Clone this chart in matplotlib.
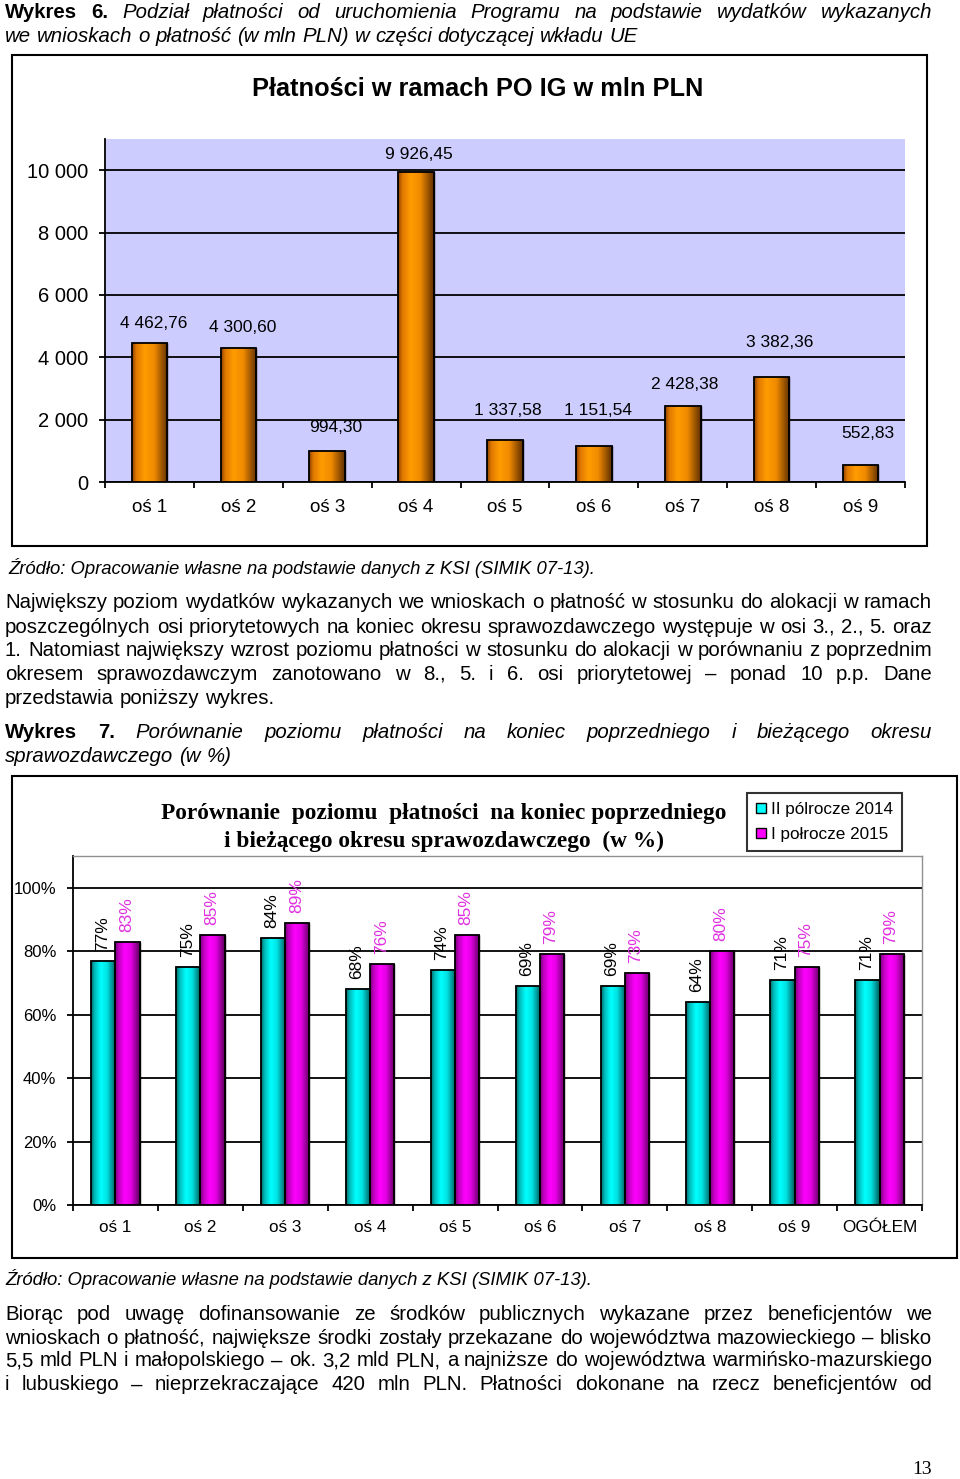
import numpy as np
import matplotlib
matplotlib.use('Agg')
import matplotlib.pyplot as plt
from matplotlib.colors import LinearSegmentedColormap
from matplotlib.patches import Rectangle, Patch

# ---------------- data ----------------
axes1_labels = ['oś 1', 'oś 2', 'oś 3', 'oś 4', 'oś 5', 'oś 6', 'oś 7', 'oś 8', 'oś 9']
payments = [4462.76, 4300.60, 994.30, 9926.45, 1337.58, 1151.54, 2428.38, 3382.36, 552.83]
y1_ticks = [0, 2000, 4000, 6000, 8000, 10000]

axes2_labels = ['oś 1', 'oś 2', 'oś 3', 'oś 4', 'oś 5', 'oś 6', 'oś 7', 'oś 8', 'oś 9', 'OGÓŁEM']
h2_2014 = [77, 75, 84, 68, 74, 69, 69, 64, 71, 71]
h1_2015 = [83, 85, 89, 76, 85, 79, 73, 80, 75, 79]
series_names = ['II pólrocze 2014', 'I połrocze 2015']
y2_ticks = [0, 20, 40, 60, 80, 100]

# label offsets (pixels) for chart 1 value labels, as placed in the original
lab1_dx = [4, 4, 8, 3, 3, 4, 2, 8, 7]
lab1_dy = [19, 20, 23, 18, 30, 36, 22, 34, 31]

W, H = 960, 1479
fig = plt.figure(figsize=(W / 100, H / 100), dpi=100)
fig.patch.set_facecolor('white')


def fx(x):
    return x / W


def fy(y):
    return 1 - y / H


SANS = 'Liberation Sans'
SERIF = 'Liberation Serif'
BODY = 14.7
renderer = fig.canvas.get_renderer()
IT = {'fontstyle': 'italic'}
BD = {'fontweight': 'bold'}
RG = {}


def text_line(y, segments, x0=5, x1=932, justify=True, size=BODY):
    words = []
    for txt, style in segments:
        for w in txt.split(' '):
            if w:
                words.append((w, style))
    objs = []
    for w, style in words:
        t = fig.text(0, fy(y + 1), w, fontsize=size, family=SANS, va='center', ha='left', **style)
        objs.append(t)
    widths = [t.get_window_extent(renderer).width for t in objs]
    n = len(objs)
    if justify and n > 1:
        gap = (x1 - x0 - sum(widths)) / (n - 1)
    else:
        gap = 0.278 * size * 100 / 72
    x = x0
    for t, w in zip(objs, widths):
        t.set_x(fx(x))
        x += w + gap


def gradient_bars(ax, bars, cmap, lw=1.3):
    grad = np.linspace(0, 1, 256).reshape(1, -1)
    for b in bars:
        x0, y0 = b.get_x(), b.get_y()
        w, h = b.get_width(), b.get_height()
        im = ax.imshow(grad, cmap=cmap, extent=[x0, x0 + w, y0, y0 + h], aspect='auto',
                       zorder=b.get_zorder() + 0.1, interpolation='bicubic')
        im.set_clip_path(b)
        ax.add_patch(Rectangle((x0, y0), w, h, fill=False, ec='black', lw=lw,
                               zorder=b.get_zorder() + 0.2))


orange_cmap = LinearSegmentedColormap.from_list(
    'or', [(0, '#8A4200'), (0.12, '#E07800'), (0.35, '#FF9C00'), (0.62, '#F08A00'), (1, '#5E2E00')])
cyan_cmap = LinearSegmentedColormap.from_list(
    'cy', [(0, '#006A6A'), (0.15, '#00BCBC'), (0.4, '#00FFFF'), (0.65, '#00E2E2'), (1, '#005858')])
mag_cmap = LinearSegmentedColormap.from_list(
    'mg', [(0, '#760076'), (0.15, '#C000C0'), (0.4, '#FF00FF'), (0.65, '#E200E2'), (1, '#5A005A')])

# ---------------- header text ----------------
text_line(11, [('Wykres 6.', BD), ('Podział płatności od uruchomienia Programu na podstawie wydatków wykazanych', IT)])
text_line(35, [('we wnioskach o płatność (w mln PLN) w części dotyczącej wkładu UE', IT)], justify=False)

# ---------------- chart 1 ----------------
fig.add_artist(Rectangle((fx(12), fy(546)), fx(927) - fx(12), fy(55) - fy(546),
                         transform=fig.transFigure, fill=False, ec='black', lw=1.5))
fig.text(fx(478), fy(89), 'Płatności w ramach PO IG w mln PLN', ha='center', va='center',
         fontsize=18.3, fontweight='bold', family=SANS)

ax1 = fig.add_axes([fx(105), fy(482), fx(905) - fx(105), fy(139) - fy(482)])
ax1.set_facecolor('#CCCCFF')
x1 = np.arange(len(payments))
bars1 = ax1.bar(x1, payments, width=0.4, color='#FF9900', edgecolor='black', zorder=3)
gradient_bars(ax1, bars1, orange_cmap)
for i, v in enumerate(payments):
    lab = f"{v:,.2f}".replace(',', ' ').replace('.', ',')
    ax1.annotate(lab, (x1[i], v), xytext=(lab1_dx[i], lab1_dy[i]), textcoords='offset pixels',
                 ha='center', va='center', fontsize=12.5, family=SANS, zorder=6)
ax1.set_xlim(-0.5, len(payments) - 0.5)
ax1.set_ylim(0, 11000)
ax1.set_yticks(y1_ticks)
ax1.set_yticklabels([f"{v:,}".replace(',', ' ') for v in y1_ticks], family=SANS, fontsize=14.5)
ax1.yaxis.grid(True, color='black', lw=1.3)
ax1.set_axisbelow(True)
for s in ['top', 'right']:
    ax1.spines[s].set_visible(False)
for s in ['left', 'bottom']:
    ax1.spines[s].set_color('black')
    ax1.spines[s].set_linewidth(1.3)
ax1.set_xticks(x1)
ax1.set_xticklabels(axes1_labels, family=SANS, fontsize=13.5)
ax1.set_xticks(np.arange(-0.5, len(payments), 1), minor=True)
ax1.tick_params(axis='x', which='major', length=0, pad=12)
ax1.tick_params(axis='x', which='minor', length=4.5, width=1.3, direction='out')
ax1.tick_params(axis='y', length=4.5, width=1.3, direction='out', pad=7.5)

fig.text(fx(8), fy(568), 'Źródło: Opracowanie własne na podstawie danych z KSI (SIMIK 07-13).',
         ha='left', va='center', fontsize=13.3, fontstyle='italic', family=SANS)

# ---------------- paragraph ----------------
text_line(602, [('Największy poziom wydatków wykazanych we wnioskach o płatność w stosunku do alokacji w ramach', RG)])
text_line(626, [('poszczególnych osi priorytetowych na koniec okresu sprawozdawczego występuje w osi 3., 2., 5. oraz', RG)])
text_line(650, [('1. Natomiast największy wzrost poziomu płatności w stosunku do alokacji w porównaniu z poprzednim', RG)])
text_line(673, [('okresem sprawozdawczym zanotowano w 8., 5. i 6. osi priorytetowej – ponad 10 p.p. Dane', RG)])
text_line(697, [('przedstawia poniższy wykres.', RG)], justify=False)

text_line(732, [('Wykres 7.', BD), ('Porównanie poziomu płatności na koniec poprzedniego i bieżącego okresu', IT)])
text_line(755, [('sprawozdawczego (w %)', IT)], justify=False)

# ---------------- chart 2 ----------------
fig.add_artist(Rectangle((fx(12), fy(1258)), fx(957) - fx(12), fy(776) - fy(1258),
                         transform=fig.transFigure, fill=False, ec='black', lw=1.5))
fig.text(fx(444), fy(813), 'Porównanie  poziomu  płatności  na koniec poprzedniego', ha='center',
         va='center', fontsize=16.8, fontweight='bold', family=SERIF)
fig.text(fx(444), fy(841), 'i bieżącego okresu sprawozdawczego  (w %)', ha='center',
         va='center', fontsize=16.8, fontweight='bold', family=SERIF)

ax2 = fig.add_axes([fx(73), fy(1205), fx(922) - fx(73), fy(856) - fy(1205)])
x2 = np.arange(len(axes2_labels))
bw = 0.285
v_a = [v / 100 for v in h2_2014]
v_b = [v / 100 for v in h1_2015]
bars_a = ax2.bar(x2 - bw / 2, v_a, width=bw, color='#00FFFF', edgecolor='black', zorder=3)
bars_b = ax2.bar(x2 + bw / 2, v_b, width=bw, color='#FF00FF', edgecolor='black', zorder=3)
gradient_bars(ax2, bars_a, cyan_cmap)
gradient_bars(ax2, bars_b, mag_cmap)
for i in range(len(x2)):
    ax2.annotate(f"{h2_2014[i]}%", (x2[i] - bw / 2, v_a[i]), xytext=(-1, 10), textcoords='offset pixels',
                 rotation=90, ha='center', va='bottom', fontsize=12.5, family=SANS, color='black', zorder=6)
    ax2.annotate(f"{h1_2015[i]}%", (x2[i] + bw / 2, v_b[i]), xytext=(-1, 10), textcoords='offset pixels',
                 rotation=90, ha='center', va='bottom', fontsize=12.5, family=SANS, color='#E030E0', zorder=6)
ax2.set_xlim(-0.5, len(axes2_labels) - 0.5)
ax2.set_ylim(0, 1.1)
ax2.set_yticks([t / 100 for t in y2_ticks])
ax2.set_yticklabels([f"{t}%" for t in y2_ticks], family=SANS, fontsize=12)
ax2.yaxis.grid(True, color='black', lw=1.3)
ax2.set_axisbelow(True)
for s in ['top', 'right']:
    ax2.spines[s].set_color('#909090')
    ax2.spines[s].set_linewidth(1.0)
for s in ['left', 'bottom']:
    ax2.spines[s].set_color('black')
    ax2.spines[s].set_linewidth(1.3)
ax2.set_xticks(x2)
ax2.set_xticklabels(axes2_labels, family=SANS, fontsize=12.3)
ax2.set_xticks(np.arange(-0.5, len(axes2_labels), 1), minor=True)
ax2.tick_params(axis='x', which='major', length=0, pad=11)
ax2.tick_params(axis='x', which='minor', length=4, width=1.3, direction='out')
ax2.tick_params(axis='y', length=4, width=1.3, direction='out', pad=8)

handles = [Patch(facecolor='#00FFFF', edgecolor='black', label=series_names[0]),
           Patch(facecolor='#FF00FF', edgecolor='black', label=series_names[1])]
leg = fig.legend(handles=handles, loc='upper left', bbox_to_anchor=(fx(747), fy(793)),
                 bbox_transform=fig.transFigure, frameon=True, fancybox=False,
                 handlelength=0.55, handleheight=0.55, handletextpad=0.3, labelspacing=0.55,
                 borderpad=0.55, borderaxespad=0, prop={'family': SANS, 'size': 12.3})
leg.get_frame().set_edgecolor('black')
leg.get_frame().set_linewidth(1.5)

fig.text(fx(5), fy(1279), 'Źródło: Opracowanie własne na podstawie danych z KSI (SIMIK 07-13).',
         ha='left', va='center', fontsize=13.3, fontstyle='italic', family=SANS)

# ---------------- bottom paragraph ----------------
text_line(1313, [('Biorąc pod uwagę dofinansowanie ze środków publicznych wykazane przez beneficjentów we', RG)])
text_line(1337, [('wnioskach o płatność, największe środki zostały przekazane do województwa mazowieckiego – blisko', RG)])
text_line(1360, [('5,5 mld PLN i małopolskiego – ok. 3,2 mld PLN, a najniższe do województwa warmińsko-mazurskiego', RG)])
text_line(1384, [('i lubuskiego – nieprzekraczające 420 mln PLN. Płatności dokonane na rzecz beneficjentów od', RG)])

fig.text(fx(932), fy(1470), '13', ha='right', va='center', fontsize=14, family=SERIF)

fig.savefig('out.png', dpi=100)
